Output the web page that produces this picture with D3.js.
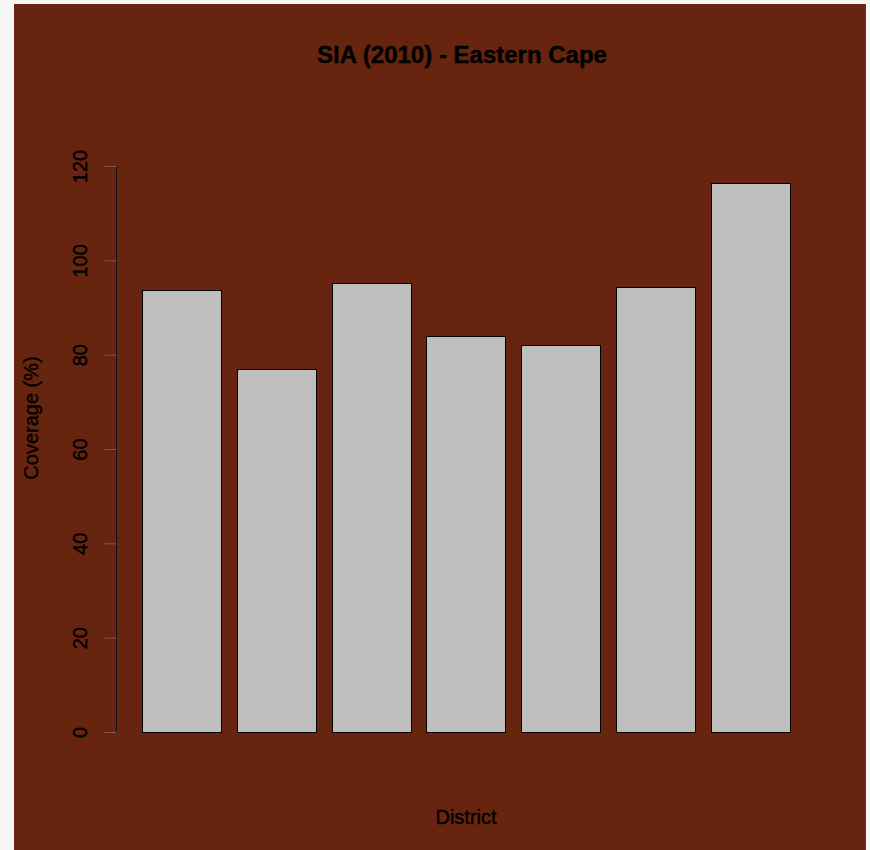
<!DOCTYPE html>
<html>
<head>
<meta charset="utf-8">
<script src="https://cdn.jsdelivr.net/npm/d3@7"></script>
<style>
  html, body { margin: 0; padding: 0; background: #f6f6f6; }
  svg { display: block; }
  text { font-family: "Liberation Sans", Arial, Helvetica, sans-serif; fill: #000; stroke: #000; stroke-width: 0.35px; }
</style>
</head>
<body>
<script>
// Coverage by district, SIA campaign 2010
const title = "SIA (2010) - Eastern Cape";
const xLabel = "District";
const yLabel = "Coverage (%)";
const coverage = [93.7, 77.0, 95.2, 84.0, 82.0, 94.3, 116.4];
const yTicks = [0, 20, 40, 60, 80, 100, 120];

const W = 870, H = 850;
const svg = d3.select("body").append("svg").attr("width", W).attr("height", H);

// dark panel
svg.append("rect").attr("x", 14).attr("y", 4).attr("width", 852).attr("height", 846)
  .attr("fill", "#67240e");
svg.append("line").attr("x1", 865.5).attr("x2", 865.5).attr("y1", 4).attr("y2", 850)
  .attr("stroke", "#7a2a1a").attr("stroke-width", 1);

// barplot layout: unit-width bars with 0.2 spacing, 4% padding on the extent
const space = 0.2, bw = 1;
const xMin = space, xMax = coverage.length * (bw + space);
const pad = (xMax - xMin) * 0.04;
const x = d3.scaleLinear().domain([xMin - pad, xMax + pad]).range([116, 815.6]);
const y = d3.scaleLinear().domain([0, 120]).range([732, 166]);

// bars
svg.append("g").selectAll("rect").data(coverage).join("rect")
  .attr("x", (d, i) => Math.round(x(space + i * (bw + space))) + 0.5)
  .attr("y", d => Math.round(y(d)) + 0.5)
  .attr("width", (d, i) => Math.round(x(space + i * (bw + space) + bw)) - Math.round(x(space + i * (bw + space))))
  .attr("height", d => Math.round(y(0)) - Math.round(y(d)))
  .attr("fill", "#bebebe")
  .attr("stroke", "#000")
  .attr("stroke-width", 1);

// y axis
const axis = svg.append("g").attr("transform", "translate(116.5,0)")
  .call(d3.axisLeft(y).tickValues(yTicks).tickSize(12).tickPadding(0).tickFormat(d3.format("d")));
axis.select(".domain").attr("stroke", "#111").attr("d", `M0,${y(120)}V${y(0)}`);
axis.selectAll(".tick line").attr("stroke", "#7d5a50");
axis.selectAll(".tick text")
  .attr("x", null).attr("dy", null)
  .attr("text-anchor", "middle")
  .attr("font-size", 20)
  .attr("transform", "translate(-30,0) rotate(-90)");
axis.selectAll("text").style("font-family", "'Liberation Sans', Arial, sans-serif")
  .attr("fill", "#000").attr("stroke", "#000").attr("stroke-width", 0.35);

// title and axis titles
svg.append("text").attr("x", 462).attr("y", 63).attr("text-anchor", "middle")
  .attr("font-size", 24).attr("font-weight", "bold").text(title);
svg.append("text").attr("x", 466).attr("y", 824).attr("text-anchor", "middle")
  .attr("font-size", 20).text(xLabel);
svg.append("text").attr("transform", "translate(38,418) rotate(-90)").attr("text-anchor", "middle")
  .attr("font-size", 20).text(yLabel);
</script>
</body>
</html>
